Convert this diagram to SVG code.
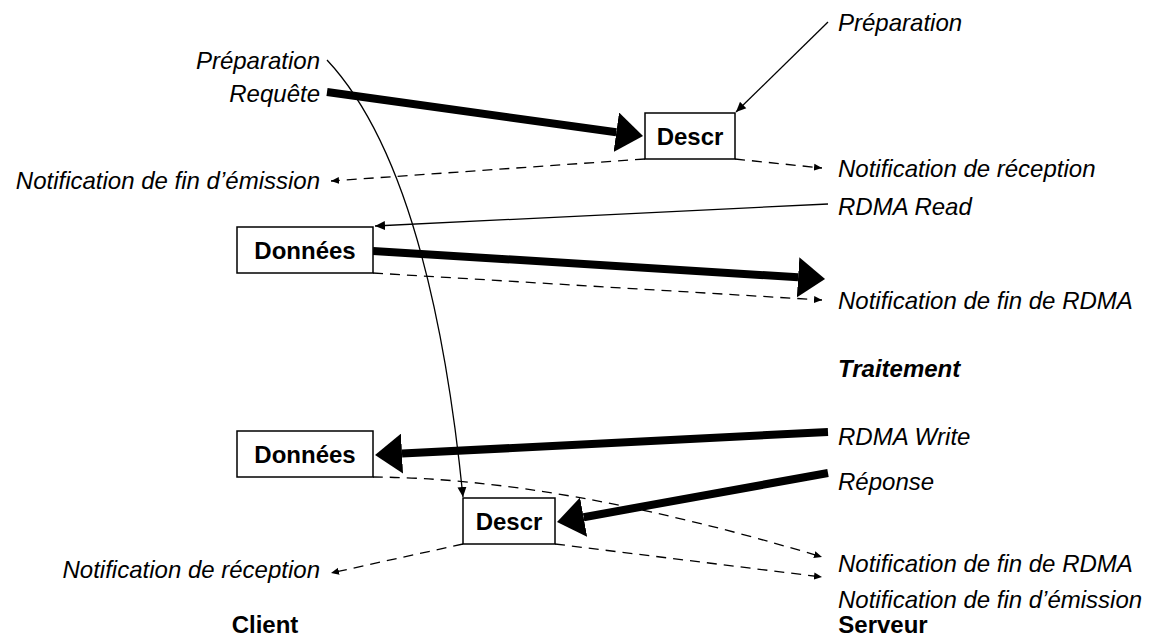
<svg xmlns="http://www.w3.org/2000/svg" width="1149" height="639" viewBox="0 0 1149 639">
<defs>
<style>
.t{font-family:"Liberation Sans",Arial,sans-serif;font-size:24px;font-style:italic;fill:#000}
.b{font-family:"Liberation Sans",Arial,sans-serif;font-size:24px;font-weight:bold;fill:#000}
.box{fill:#fff;stroke:#000;stroke-width:1.5}
.thin{fill:none;stroke:#000;stroke-width:1.3}
.dash{fill:none;stroke:#000;stroke-width:1.3;stroke-dasharray:10 7}
.thick{fill:none;stroke:#000;stroke-width:8}
</style>
<marker id="ah" markerUnits="userSpaceOnUse" viewBox="0 -5 10 10" markerWidth="10" markerHeight="10" refX="10" refY="0" orient="auto"><path d="M0,-4.5L10,0L0,4.5z" fill="#000"/></marker>
<marker id="ad" markerUnits="userSpaceOnUse" viewBox="0 -4 8 8" markerWidth="8" markerHeight="8" refX="8" refY="0" orient="auto"><path d="M0,-3.5L8,0L0,3.5z" fill="#000"/></marker>
<marker id="at" markerUnits="userSpaceOnUse" viewBox="0 -20 28 40" markerWidth="28" markerHeight="40" refX="0" refY="0" orient="auto"><path d="M0,-20L27,0L0,20z" fill="#000"/></marker>
</defs>
<rect width="1149" height="639" fill="#fff"/>
<g id="connectors">
<path class="thin" d="M327,60 Q430,170 463,497" marker-end="url(#ah)"/>
<path class="thin" d="M828,22 L736,112" marker-end="url(#ah)"/>
<path class="thick" d="M327,92 L616.3,132.3" marker-end="url(#at)"/>
<path class="dash" d="M645,159 L331,181" marker-end="url(#ad)"/>
<path class="dash" d="M735,159 L822,168" marker-end="url(#ad)"/>
<path class="thin" d="M828,204 L375,226" marker-end="url(#ah)"/>
<path class="thick" d="M373,251 L798.1,277.3" marker-end="url(#at)"/>
<path class="dash" d="M373,273 L822,300" marker-end="url(#ad)"/>
<path class="thick" d="M828,432 L402,453.6" marker-end="url(#at)"/>
<path class="thick" d="M828,473 L583.6,517.2" marker-end="url(#at)"/>
<path class="dash" d="M373,477 Q560,478 822,557" marker-end="url(#ad)"/>
<path class="dash" d="M555,544 L822,577" marker-end="url(#ad)"/>
<path class="dash" d="M463,544 L331,573" marker-end="url(#ad)"/>
</g>
<g id="descr1"><rect class="box" x="645" y="113" width="90" height="46"/><text class="b" x="690" y="145" text-anchor="middle">Descr</text></g>
<g id="donnees1"><rect class="box" x="237" y="227" width="136" height="46"/><text class="b" x="305" y="259" text-anchor="middle">Données</text></g>
<g id="donnees2"><rect class="box" x="237" y="431" width="136" height="46"/><text class="b" x="305" y="463" text-anchor="middle">Données</text></g>
<g id="descr2"><rect class="box" x="463" y="498" width="92" height="46"/><text class="b" x="509" y="530" text-anchor="middle">Descr</text></g>
<g id="labels">
<text class="t" x="838" y="31">Préparation</text>
<text class="t" x="320" y="69" text-anchor="end">Préparation</text>
<text class="t" x="320" y="102" text-anchor="end">Requête</text>
<text class="t" x="320" y="189" text-anchor="end">Notification de fin d’émission</text>
<text class="t" x="838" y="177">Notification de réception</text>
<text class="t" x="838" y="215">RDMA Read</text>
<text class="t" x="838" y="309">Notification de fin de RDMA</text>
<text class="b" x="838" y="377" font-style="italic">Traitement</text>
<text class="t" x="838" y="445">RDMA Write</text>
<text class="t" x="838" y="490">Réponse</text>
<text class="t" x="838" y="572">Notification de fin de RDMA</text>
<text class="t" x="838" y="608">Notification de fin d’émission</text>
<text class="t" x="320" y="578" text-anchor="end">Notification de réception</text>
<text class="b" x="265" y="633" text-anchor="middle">Client</text>
<text class="b" x="883" y="633" text-anchor="middle">Serveur</text>
</g>
</svg>
